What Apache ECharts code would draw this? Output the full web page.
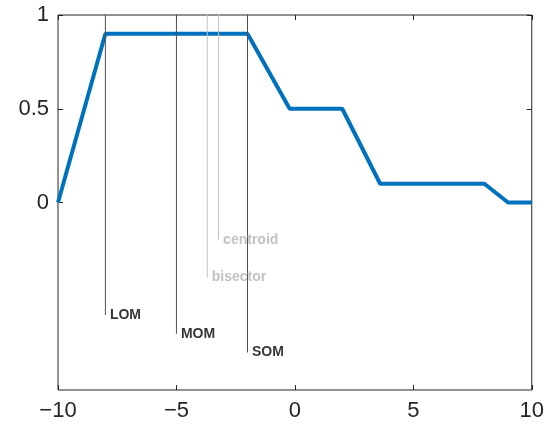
<!DOCTYPE html>
<html>
<head>
<meta charset="utf-8">
<script src="https://cdn.jsdelivr.net/npm/echarts@6/dist/echarts.min.js"></script>
<style>
  html, body { margin: 0; padding: 0; background: #fff; }
  #chart { width: 547px; height: 430px; }
</style>
</head>
<body>
<div id="chart"></div>
<script>
// Aggregated membership function (breakpoints)
const mfX = [-10, -8, -2, -0.22, 2, 3.6, 8, 9, 10];
const mfY = [0, 0.9, 0.9, 0.5, 0.5, 0.1, 0.1, 0, 0];

// Defuzzified outputs and where each marker line ends
const defuzzNames = ['LOM', 'MOM', 'SOM', 'bisector', 'centroid'];
const defuzzX = [-8, -5, -2, -3.7, -3.22];
const defuzzLabelY = [-0.6, -0.7, -0.8, -0.4, -0.2];
const defuzzLight = [false, false, false, true, true];

const xTicks = [-10, -5, 0, 5, 10];
const yTicks = [0, 0.5, 1];

const axisColor = '#262626';
const font = 'Liberation Sans, Arial, sans-serif';
const fmt = v => String(v).replace('-', '\u2212');

const series = [{
  type: 'line',
  data: mfX.map((x, i) => [x, mfY[i]]),
  showSymbol: false,
  lineStyle: { color: '#0072BD', width: 4 },
  z: 2
}];

defuzzNames.forEach((name, i) => {
  const col = defuzzLight[i] ? '#c4c4c4' : '#505050';
  series.push({
    type: 'line',
    data: [[defuzzX[i], defuzzLabelY[i]], [defuzzX[i], 1.2]],
    showSymbol: false,
    clip: true,
    lineStyle: { color: col, width: 1 },
    z: 3
  });
  series.push({
    type: 'scatter',
    data: [[defuzzX[i], defuzzLabelY[i]]],
    symbolSize: 1,
    itemStyle: { color: 'rgba(0,0,0,0)' },
    label: {
      show: true,
      position: 'right',
      distance: 4,
      formatter: name,
      fontFamily: font,
      fontWeight: 'bold',
      fontSize: 14,
      color: defuzzLight[i] ? '#b3b3b3' : '#000'
    },
    z: 4
  });
});

const tickStyle = { show: true, inside: true, length: 5, lineStyle: { color: axisColor } };

const chart = echarts.init(document.getElementById('chart'));
chart.setOption({
  animation: false,
  grid: {
    left: 58, right: 15, top: 15, bottom: 40,
    show: true, borderColor: axisColor, borderWidth: 1, backgroundColor: '#fff'
  },
  xAxis: [{
    type: 'value', min: -10, max: 10, interval: 5, position: 'bottom',
    axisLine: { show: false, onZero: false },
    axisTick: Object.assign({}, tickStyle, { customValues: xTicks }),
    axisLabel: {
      fontFamily: font, fontSize: 22, color: axisColor, margin: 10,
      customValues: xTicks, formatter: fmt
    },
    splitLine: { show: false }
  }, {
    type: 'value', min: -10, max: 10, interval: 5, position: 'top',
    axisLine: { show: false, onZero: false },
    axisTick: Object.assign({}, tickStyle, { customValues: xTicks }),
    axisLabel: { show: false },
    splitLine: { show: false }
  }],
  yAxis: [{
    type: 'value', min: -1, max: 1, interval: 0.5, position: 'left',
    axisLine: { show: false, onZero: false },
    axisTick: Object.assign({}, tickStyle, { customValues: yTicks }),
    axisLabel: {
      fontFamily: font, fontSize: 22, color: axisColor, margin: 9,
      customValues: yTicks, formatter: fmt
    },
    splitLine: { show: false }
  }, {
    type: 'value', min: -1, max: 1, interval: 0.5, position: 'right',
    axisLine: { show: false, onZero: false },
    axisTick: Object.assign({}, tickStyle, { customValues: yTicks }),
    axisLabel: { show: false },
    splitLine: { show: false }
  }],
  series: series
});
</script>
</body>
</html>
